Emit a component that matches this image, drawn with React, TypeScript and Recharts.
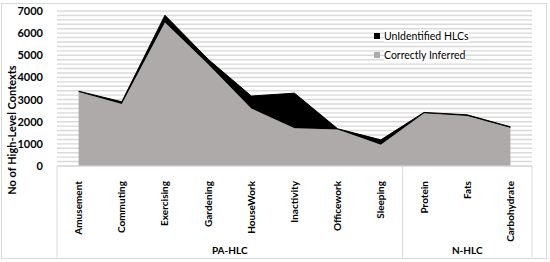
import React from 'react';
import { AreaChart, Area, XAxis, YAxis, CartesianGrid } from 'recharts';

const CATEGORIES = [
  'Amusement',
  'Commuting',
  'Exercising',
  'Gardening',
  'HouseWork',
  'Inactivity',
  'Officework',
  'Sleeping',
  'Protein',
  'Fats',
  'Carbohydrate',
];
const CORRECTLY_INFERRED = [3340, 2800, 6480, 4600, 2600, 1700, 1650, 960, 2380, 2260, 1720];
const UNIDENTIFIED = [40, 100, 330, 220, 560, 1590, 30, 220, 40, 50, 50];
const GROUPS = [
  { name: 'PA-HLC', count: 8 },
  { name: 'N-HLC', count: 3 },
];
const Y_LABELS = [0, 1000, 2000, 3000, 4000, 5000, 6000, 7000];
const Y_MAX = 7000;
const GRID_STEP = 200;

const W = 550;
const H = 262;
const MARGIN = { top: 11, right: 18, left: 0, bottom: 0 };
const Y_AXIS_W = 57;
const X_AXIS_H = 96;
const FONT = 'Lato, "Open Sans", sans-serif';

const plotW = W - MARGIN.left - MARGIN.right - Y_AXIS_W;
const band = plotW / CATEGORIES.length;
const plotBottom = H - MARGIN.bottom - X_AXIS_H;
const boxBottom = 257.5;

const data = CATEGORIES.map((c, i) => ({
  name: c,
  correct: CORRECTLY_INFERRED[i],
  unidentified: UNIDENTIFIED[i],
}));

const gridTicks: number[] = [];
for (let v = 0; v <= Y_MAX; v += GRID_STEP) gridTicks.push(v);

// index of the first category of each group
const groupStarts: Record<number, { name: string; count: number }> = {};
{
  let idx = 0;
  GROUPS.forEach((g) => {
    groupStarts[idx] = g;
    idx += g.count;
  });
}

function CategoryTick(props: any) {
  const { x, y, payload, index } = props;
  const g = groupStarts[index];
  const last = index === CATEGORIES.length - 1;
  return (
    <g>
      <text
        x={0}
        y={0}
        transform={`translate(${x + 3.5},${y + 7}) rotate(-90)`}
        textAnchor="end"
        fontSize={10}
        fontWeight={700}
        fontFamily={FONT}
        fill="#000"
      >
        {payload.value}
      </text>
      {g && (
        <>
          <line x1={x - band / 2} y1={plotBottom} x2={x - band / 2} y2={boxBottom} stroke="#d9d9d9" />
          <text
            x={x - band / 2 + (g.count * band) / 2}
            y={254}
            textAnchor="middle"
            fontSize={10}
            fontWeight={700}
            fontFamily={FONT}
            fill="#000"
          >
            {g.name}
          </text>
        </>
      )}
      {last && <line x1={x + band / 2} y1={plotBottom} x2={x + band / 2} y2={boxBottom} stroke="#d9d9d9" />}
    </g>
  );
}

function ValueTick(props: any) {
  const { y, payload } = props;
  if (!Y_LABELS.includes(payload.value)) return <g />;
  return (
    <text x={43} y={y} dy={4} textAnchor="end" fontSize={11} fontWeight={700} fontFamily={FONT} fill="#000">
      {payload.value}
    </text>
  );
}

const LEGEND_ITEMS = [
  { label: 'UnIdentified HLCs', color: '#000000' },
  { label: 'Correctly Inferred', color: '#aeaaaa' },
];

export default function App() {
  return (
    <div style={{ position: 'fixed', left: 0, top: 0, width: W, height: H, background: '#fff' }}>
      <div
        style={{
          position: 'absolute',
          left: 1,
          top: 3,
          width: 544,
          height: 254,
          border: '1px solid #d9d9d9',
        }}
      />
      <AreaChart width={W} height={H} data={data} margin={MARGIN}>
        <CartesianGrid horizontal vertical={false} stroke="#d9d9d9" strokeWidth={1.4} />
        <XAxis
          dataKey="name"
          interval={0}
          height={X_AXIS_H}
          padding={{ left: band / 2, right: band / 2 }}
          axisLine={{ stroke: '#d9d9d9' }}
          tickLine={false}
          tick={<CategoryTick />}
        />
        <YAxis
          width={Y_AXIS_W}
          domain={[0, Y_MAX]}
          ticks={gridTicks}
          interval={0}
          axisLine={false}
          tickLine={false}
          tick={<ValueTick />}
          label={{
            content: () => (
              <text
                x={0}
                y={0}
                transform="translate(16,130) rotate(-90)"
                textAnchor="middle"
                fontSize={11}
                fontWeight={700}
                fontFamily={FONT}
                fill="#000"
              >
                No of High-Level Contexts
              </text>
            ),
          }}
        />
        <Area
          type="linear"
          dataKey="correct"
          name="Correctly Inferred"
          stackId="1"
          stroke="none"
          fill="#aeaaaa"
          fillOpacity={1}
          isAnimationActive={false}
        />
        <Area
          type="linear"
          dataKey="unidentified"
          name="UnIdentified HLCs"
          stackId="1"
          stroke="#000"
          strokeWidth={1}
          fill="#000"
          fillOpacity={1}
          isAnimationActive={false}
        />
      </AreaChart>
      <div
        style={{
          position: 'absolute',
          left: 374,
          top: 26,
          fontFamily: FONT,
          fontSize: 10.5,
          color: '#000',
        }}
      >
        {LEGEND_ITEMS.map((it) => (
          <div key={it.label} style={{ display: 'flex', alignItems: 'center', height: 19 }}>
            <span style={{ width: 6, height: 6, background: it.color, marginRight: 4, display: 'inline-block' }} />
            <span style={{ background: '#fff', lineHeight: '12px' }}>{it.label}</span>
          </div>
        ))}
      </div>
    </div>
  );
}
